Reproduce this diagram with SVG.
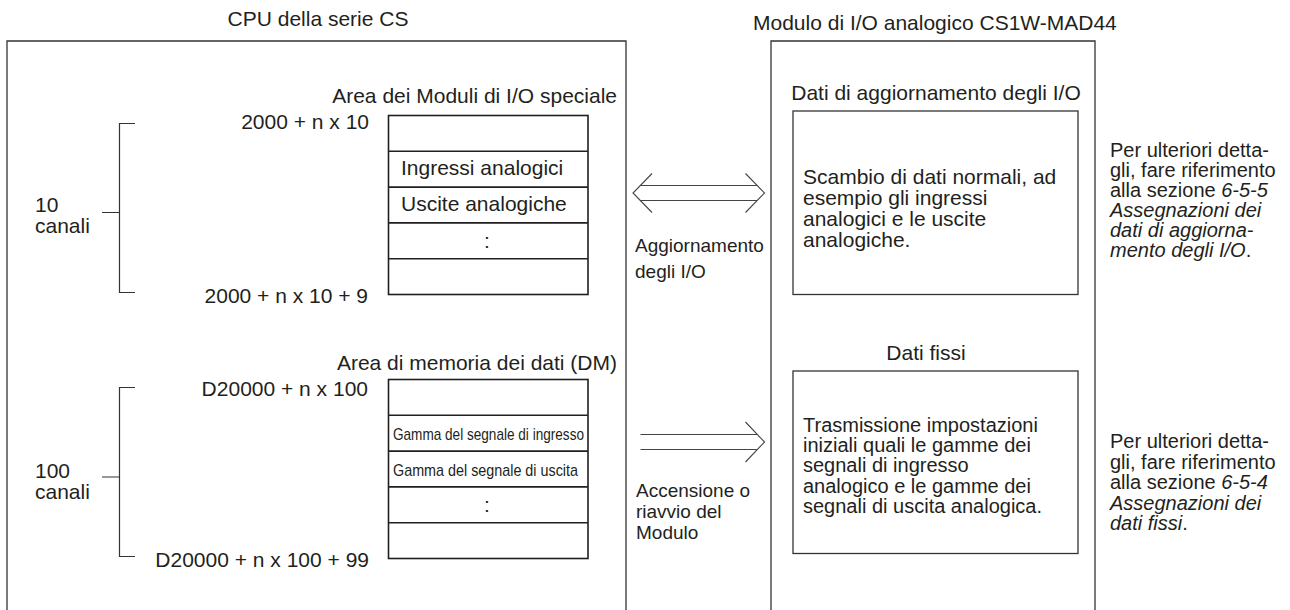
<svg xmlns="http://www.w3.org/2000/svg" width="1290" height="610" viewBox="0 0 1290 610">
<style>
text{font-family:"Liberation Sans",Arial,Helvetica,sans-serif;fill:#231f20}
.t21{font-size:21px}
.t20{font-size:20px}
.t19{font-size:19px}
.sm{font-size:17px}
.it{font-style:italic}
.box{fill:#fff;stroke:#333;stroke-width:1.3}
.frame{fill:none;stroke:#333;stroke-width:1.3}
.row{fill:none;stroke:#231f20;stroke-width:1.6}
.ln{fill:none;stroke:#333;stroke-width:1.2}
.arr{fill:none;stroke:#444;stroke-width:1.1}
.end{text-anchor:end}
.mid{text-anchor:middle}
</style>
<rect width="1290" height="610" fill="#fff"/>

<g id="cpu">
<text class="t21 mid" x="318" y="26">CPU della serie CS</text>
<path class="frame" d="M7,640 V41 H626 V640"/>
</g>

<g id="io-area">
<text class="t21 end" x="617" y="103">Area dei Moduli di I/O speciale</text>
<text class="t21 end" x="369" y="129">2000 + n x 10</text>
<text class="t21 end" x="368" y="303">2000 + n x 10 + 9</text>
<rect class="row" x="388.5" y="115.5" width="199.5" height="179"/>
<path class="row" d="M388.5,151.3 H588 M388.5,187.1 H588 M388.5,222.9 H588 M388.5,258.7 H588"/>
<text class="t21" x="401" y="175">Ingressi analogici</text>
<text class="t21" x="401" y="211">Uscite analogiche</text>
<text class="t21 mid" x="487" y="248">:</text>
</g>

<g id="io-range">
<path class="ln" d="M135,123.5 H119.5 V292.5 H135 M102,212.5 H119.5"/>
<text class="t21" x="35" y="212">10</text>
<text class="t21" x="35" y="233">canali</text>
</g>

<g id="dm-area">
<text class="t21 end" x="617" y="370">Area di memoria dei dati (DM)</text>
<text class="t21 end" x="368" y="396">D20000 + n x 100</text>
<text class="t21 end" x="369" y="567">D20000 + n x 100 + 99</text>
<rect class="row" x="388.5" y="379.5" width="199.5" height="179"/>
<path class="row" d="M388.5,415.3 H588 M388.5,451.1 H588 M388.5,486.9 H588 M388.5,522.7 H588"/>
<text class="sm" x="393" y="440" textLength="191" lengthAdjust="spacingAndGlyphs">Gamma del segnale di ingresso</text>
<text class="sm" x="393" y="476" textLength="185" lengthAdjust="spacingAndGlyphs">Gamma del segnale di uscita</text>
<text class="t21 mid" x="487" y="512">:</text>
</g>

<g id="dm-range">
<path class="ln" d="M135,387.5 H119.5 V556.5 H135 M102,477 H119.5"/>
<text class="t21" x="35" y="478">100</text>
<text class="t21" x="35" y="499">canali</text>
</g>

<g id="module">
<text class="t21" x="753" y="30">Modulo di I/O analogico CS1W-MAD44</text>
<path class="frame" d="M771,640 V41 H1095 V640"/>
</g>

<g id="io-refresh-data">
<text class="t21 mid" x="936" y="100">Dati di aggiornamento degli I/O</text>
<rect class="box" x="793" y="111" width="285" height="183.5"/>
<text class="t21" x="803" y="184">Scambio di dati normali, ad</text>
<text class="t21" x="803" y="205">esempio gli ingressi</text>
<text class="t21" x="803" y="226">analogici e le uscite</text>
<text class="t21" x="803" y="247">analogiche.</text>
</g>

<g id="fixed-data">
<text class="t21 mid" x="926" y="360">Dati fissi</text>
<rect class="box" x="793" y="371" width="285" height="182.5"/>
<text class="t20" x="803" y="432">Trasmissione impostazioni</text>
<text class="t20" x="803" y="452">iniziali quali le gamme dei</text>
<text class="t20" x="803" y="472">segnali di ingresso</text>
<text class="t20" x="803" y="493">analogico e le gamme dei</text>
<text class="t20" x="803" y="513">segnali di uscita analogica.</text>
</g>

<g id="note-io">
<text class="t20" x="1110" y="157">Per ulteriori detta-</text>
<text class="t20" x="1110" y="177">gli, fare riferimento</text>
<text class="t20" x="1110" y="197">alla sezione <tspan class="it">6-5-5</tspan></text>
<text class="t20 it" x="1110" y="217">Assegnazioni dei</text>
<text class="t20 it" x="1110" y="237">dati di aggiorna-</text>
<text class="t20" x="1110" y="257"><tspan class="it">mento degli I/O</tspan>.</text>
</g>

<g id="note-fixed">
<text class="t20" x="1110" y="448">Per ulteriori detta-</text>
<text class="t20" x="1110" y="468.5">gli, fare riferimento</text>
<text class="t20" x="1110" y="489">alla sezione <tspan class="it">6-5-4</tspan></text>
<text class="t20 it" x="1110" y="509.5">Assegnazioni dei</text>
<text class="t20" x="1110" y="530"><tspan class="it">dati fissi</tspan>.</text>
</g>

<g id="connectors">
<g id="io-refresh-arrow">
<path class="arr" d="M652,173.5 L633,193 L652,212.5 M745.5,173.5 L764.5,193 L745.5,212.5 M640.5,185.5 H757 M640.5,200.5 H757"/>
<text class="t19" x="635" y="252">Aggiornamento</text>
<text class="t19" x="635" y="278">degli I/O</text>
</g>
<g id="startup-arrow">
<path class="arr" d="M640.5,434.5 H757 M640.5,449.5 H757 M745.5,422 L764.5,442 L745.5,462"/>
<text class="t19" x="636" y="497">Accensione o</text>
<text class="t19" x="636" y="518">riavvio del</text>
<text class="t19" x="636" y="539">Modulo</text>
</g>
</g>
</svg>
